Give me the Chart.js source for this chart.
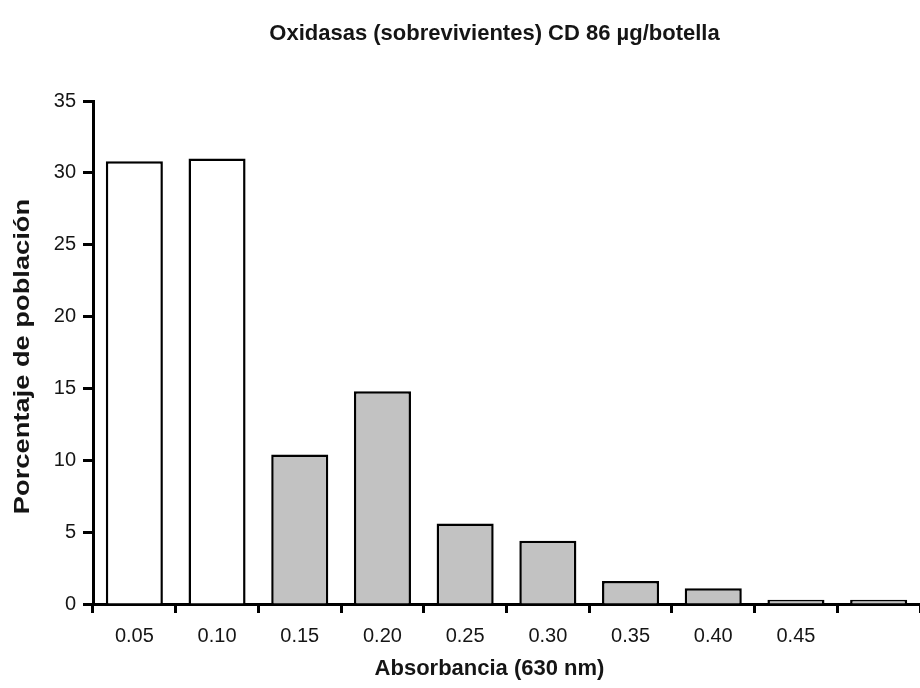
<!DOCTYPE html>
<html>
<head>
<meta charset="utf-8">
<script src="https://cdn.jsdelivr.net/npm/chart.js@4/dist/chart.umd.min.js"></script>
<style>
  html, body { margin: 0; padding: 0; background: #fff; }
  #wrap { width: 920px; height: 688px; }
</style>
</head>
<body>
<div id="wrap"><canvas id="chart" width="920" height="688"></canvas></div>
<script>
// --- Datos ---
const categories = ['0.05', '0.10', '0.15', '0.20', '0.25', '0.30', '0.35', '0.40', '0.45', ''];
const values = [30.8, 31.0, 10.4, 14.8, 5.6, 4.4, 1.6, 1.1, 0.3, 0.3];
const blankBars = 2; // las dos primeras barras van en blanco
const yTicks = [0, 5, 10, 15, 20, 25, 30, 35];

const chartTitle = 'Oxidasas (sobrevivientes) CD 86 µg/botella';
const xTitle = 'Absorbancia (630 nm)';
const yTitle = 'Porcentaje de población';

const FONT = '"Liberation Sans", Arial, sans-serif';
const INK = '#151515';

// títulos dibujados a mano (el original está algo descentrado y el rótulo vertical algo estirado)
const titlesPlugin = {
  id: 'titles',
  afterDraw(chart) {
    const { ctx, chartArea } = chart;
    const cx = (chartArea.left + chartArea.right) / 2;
    const cy = (chartArea.top + chartArea.bottom) / 2;
    ctx.save();
    ctx.fillStyle = INK;
    ctx.textAlign = 'center';
    ctx.textBaseline = 'alphabetic';
    ctx.font = `bold 22px ${FONT}`;
    ctx.fillText(chartTitle, cx - 12, 40);
    ctx.fillText(xTitle, cx - 17, 675);

    ctx.translate(28.5, cy + 4);
    ctx.rotate(-Math.PI / 2);
    ctx.scale(1.24, 1);
    ctx.fillText(yTitle, 0, 0);
    ctx.restore();
  }
};

new Chart(document.getElementById('chart'), {
  type: 'bar',
  data: {
    labels: categories,
    datasets: [{
      data: values,
      backgroundColor: values.map((v, i) => i < blankBars ? '#ffffff' : '#c2c2c2'),
      borderColor: '#000',
      borderWidth: 2.5,
      barPercentage: 0.69,
      categoryPercentage: 1
    }]
  },
  options: {
    responsive: false,
    animation: false,
    layout: { padding: { top: 101, left: 0, right: 0, bottom: 0 } },
    plugins: {
      legend: { display: false },
      tooltip: { enabled: false },
      title: { display: false }
    },
    scales: {
      x: {
        z: 1,
        border: { color: '#000', width: 3 },
        grid: {
          offset: true,
          drawOnChartArea: false,
          drawTicks: true,
          tickLength: 9,
          tickWidth: 3,
          tickColor: '#000',
          color: '#000'
        },
        ticks: {
          color: INK,
          font: { family: FONT, size: 20 },
          padding: 11,
          maxRotation: 0,
          autoSkip: false
        },
        afterFit: s => { s.height = 84; }
      },
      y: {
        z: 1,
        min: 0,
        max: 35,
        border: { color: '#000', width: 3 },
        grid: {
          drawOnChartArea: false,
          drawTicks: true,
          tickLength: 10,
          tickWidth: 3,
          tickColor: '#000',
          color: '#000'
        },
        afterBuildTicks: s => { s.ticks = yTicks.map(v => ({ value: v })); },
        ticks: {
          color: INK,
          font: { family: FONT, size: 20 },
          padding: 7
        },
        afterFit: s => { s.width = 93; }
      }
    }
  },
  plugins: [titlesPlugin]
});
</script>
</body>
</html>
